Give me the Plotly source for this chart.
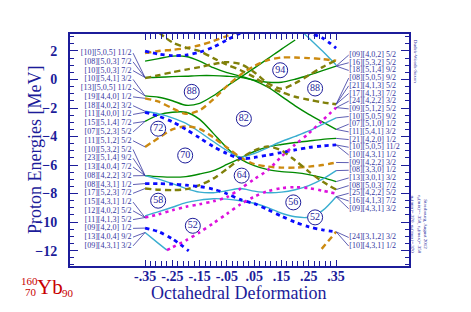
import numpy as np
import plotly.graph_objects as go

# ---------------- data ----------------
xs = [-0.35, -0.30, -0.25, -0.20, -0.15, -0.10, -0.05, 0.00, 0.05, 0.10, 0.15, 0.20, 0.25, 0.30, 0.35]

# green (solid)
G1 = [1.29, 1.46, 1.64, 1.61, 1.29, 0.83, 0.48, 0.23, -0.08, -0.54, -1.18, -1.85, -2.44, -2.97, -3.50]
G2 = [0.14, 0.16, 0.20, 0.23, 0.27, 0.27, 0.23, 0.16, -0.05, -0.19, -0.19, 0.02, 0.30, 0.62, 0.94]
G3 = [-1.15, -1.25, -1.49, -1.81, -1.67, -1.14, -0.47, 0.16, 0.80, 1.46, 2.13, 2.77, None, None, None]
G4 = [-6.74, -6.81, -6.85, -6.81, -6.63, -6.39, -5.96, -5.51, -5.05, -4.73, -4.56, -4.42, -4.31, -4.20, -4.13]
G5 = [-2.94, -2.48, -2.30, -2.30, -2.80, -3.78, -4.80, -5.58, -6.04, -6.32, -6.46, -6.53, -6.67, -6.88, -7.16]
# cyan (solid)
CY1 = [-2.23, -2.41, -2.69, -3.08, -3.68, -4.35, -4.98, -5.44, -5.19, -4.77, -4.35, -3.99, -3.61, -3.15, -2.69]
CY2 = [None, None, None, None, None, None, None, None, None, None, None, 3.82, 2.91, 1.99, 1.01]
CA = [-6.74, -6.99, -7.30, -7.65, -7.90, -7.94, -7.80, -7.65, -7.83, -7.94, -7.90, -7.73, -7.44, -6.99, -6.39]
CB = [-9.56, -9.27, -8.96, -8.64, -8.46, -8.36, -8.39, -8.50, -8.68, -8.99, -9.38, -9.63, -9.66, -9.20, -8.22]
C1_x = [-0.35, -0.30, -0.27]
C1_E = [-10.73, -11.51, -11.97]
# blue (dotted)
BL1 = [-2.30, -2.58, -2.97, -3.50, -4.10, -4.70, -5.19, -5.54, -5.47, -5.30, -5.12, -4.94, -4.77, -4.66, -4.59]
BL2 = [1.99, 1.78, 1.68, 1.71, 1.92, 2.27, 2.77, 3.26, 3.61, 3.75, 3.68, 3.47, 3.26, 2.91, 2.20]
B1 = [-7.30, -7.30, -7.34, -7.41, -7.51, -7.69, -8.01, -8.43, -8.71, -9.13, -9.59, -10.01, -10.33, -10.54, -10.68]
B2_x = [-0.35, -0.30, -0.25, -0.19]
B2_E = [-10.42, -10.68, -11.18, -12.02]
# orange (dashed)
OR1 = [1.85, 2.00, 2.08, 2.20, 2.40, 2.70, 3.05, 3.45, None, None, None, None, None, None, None]
OR2 = [-1.32, -1.56, -2.02, -2.41, -2.16, -1.39, -0.47, 0.34, 0.94, 1.36, 1.54, 1.54, 1.50, 1.43, 1.31]
OR3 = [-4.73, -4.10, -3.50, -3.29, -3.46, -4.06, -4.77, -5.47, -5.93, -6.11, -6.18, -6.18, -6.11, -6.00, -5.82]
OR4_x = [0.297, 0.35]
OR4_E = [-11.88, -10.68]
# olive (dashed)
OL1 = [0.09, 0.30, 0.51, 0.69, 0.87, 1.08, 1.22, 1.08, 0.51, -0.26, -0.65, -0.26, 0.30, 0.87, 1.36]
OL2 = [None, 3.30, 2.60, 2.24, 1.99, 1.50, 1.04, 0.65, 0.16, -0.47, -0.89, -1.21, -1.42, -1.60, -1.74]
OL3 = [-7.65, -7.73, -7.76, -7.69, -7.41, -6.95, -6.28, -5.54, -4.98, -4.70, -4.98, -5.68, -6.46, -7.16, -7.72]
# magenta (dotted)
M1 = [-9.68, -9.45, -9.17, -8.92, -8.75, -8.54, -8.25, -7.65, -6.99, -6.35, -5.40, -4.56, -3.78, -2.87, -1.97]
M2_x = [-0.27, -0.25, -0.20, -0.15, -0.10, -0.05, 0.00, 0.05, 0.10, 0.15, 0.20, 0.25, 0.30, 0.35]
M2_E = [-11.97, -11.77, -11.28, -10.72, -10.08, -9.42, -8.75, -8.22, -7.83, -7.62, -7.55, -7.62, -7.80, -8.01]

# magic-number circles
circ_x = [0.145, -0.179, 0.273, 0.012, -0.302, -0.203, 0.004, -0.302, -0.175, 0.193, 0.273]
circ_E = [0.65, -0.87, -0.63, -2.75, -3.45, -5.33, -6.74, -8.50, -10.26, -8.62, -9.67]
circ_N = ["94", "88", "88", "82", "72", "70", "64", "58", "52", "56", "52"]

left_labels = ["[10][5,0,5] 11/2", "[08][5,0,3] 7/2", "[10][5,0,3] 7/2", "[10][5,4,1] 3/2",
               "[13][5,0,5] 11/2", "[19][4,4,0] 1/2", "[18][4,0,2] 3/2", "[11][4,0,0] 1/2",
               "[15][5,1,4] 7/2", "[07][5,2,3] 5/2", "[11][5,1,2] 5/2", "[10][5,3,2] 5/2",
               "[23][5,1,4] 9/2", "[13][4,0,4] 7/2", "[08][4,2,2] 3/2", "[08][4,3,1] 1/2",
               "[17][5,2,3] 7/2", "[15][4,3,1] 1/2", "[12][4,0,2] 5/2", "[11][4,1,3] 5/2",
               "[09][4,2,0] 1/2", "[13][4,0,4] 9/2", "[09][4,3,1] 3/2"]
left_targets = [G2[0], G2[0], G2[0], G3[0], G3[0], OR2[0], CY1[0], BL1[0], G5[0], G5[0], OR3[0],
                G4[0], G4[0], G4[0], G4[0], B1[0], OL3[0], M1[0], M1[0], M1[0], B2_E[0], C1_E[0], C1_E[0]]

right_labels = ["[09][4,0,2] 5/2", "[16][5,3,2] 5/2", "[18][5,1,4] 9/2", "[08][5,0,5] 9/2",
                "[21][4,1,3] 5/2", "[17][4,1,3] 7/2", "[24][4,2,2] 3/2", "[09][5,1,2] 5/2",
                "[10][5,0,5] 9/2", "[07][5,1,0] 1/2", "[11][5,4,1] 3/2", "[21][4,2,0] 1/2",
                "[10][5,0,5] 11/2", "[10][4,3,1] 1/2", "[09][4,2,2] 3/2", "[08][3,3,0] 1/2",
                "[13][3,0,1] 3/2", "[08][5,0,3] 7/2", "[25][4,2,2] 5/2", "[16][4,1,3] 7/2",
                "[09][4,3,1] 3/2", "[24][3,1,2] 3/2", "[10][4,3,1] 1/2"]
right_targets = [G2[-1], G2[-1], G2[-1], OL2[-1], OL2[-1], OL2[-1], M1[-1], M1[-1], CY1[-1],
                 G1[-1], G1[-1], G4[-1], BL1[-1], BL1[-1], OR3[-1], CA[-1], G5[-1], OL3[-1],
                 CB[-1], CB[-1], CB[-1], B1[-1], B1[-1]]

x_ticks = [-0.35, -0.25, -0.15, -0.05, 0.05, 0.15, 0.25, 0.35]
x_ticktext = ["-.35", "-.25", "-.15", "-.05", ".05", ".15", ".25", ".35"]
y_ticks = [2, 0, -2, -4, -6, -8, -10, -12]

# ---------------- style ----------------
NAVY = "#1c1c9a"
LBL = "#3535a0"
RED = "#c80000"
SERIF = "Liberation Serif"
GREEN = "#008a00"
CYAN = "#3aaed0"
BLUE = "#0a0aff"
ORANGE = "#cc8a10"
OLIVE = "#80800a"
MAGENTA = "#dd10dd"

fig = go.Figure()


def add(x, y, color, width, dash):
    fig.add_trace(go.Scatter(x=x, y=y, mode="lines", hoverinfo="skip", showlegend=False,
                             line=dict(color=color, width=width, dash=dash, shape="spline", smoothing=0.8)))


for c in [G1, G2, G3, G4, G5]:
    add(xs, c, GREEN, 1.4, "solid")
for c in [CY1, CY2, CA, CB]:
    add(xs, c, CYAN, 1.4, "solid")
add(C1_x, C1_E, CYAN, 1.4, "solid")
for c in [OR1, OR2, OR3]:
    add(xs, c, ORANGE, 2.4, "6px,4px")
add(OR4_x, OR4_E, ORANGE, 2.4, "6px,4px")
for c in [OL1, OL2, OL3]:
    add(xs, c, OLIVE, 2.4, "6px,4px")
for c in [BL1, BL2, B1]:
    add(xs, c, BLUE, 2.8, "4px,4px")
add(B2_x, B2_E, BLUE, 2.8, "4px,4px")
add(xs, M1, MAGENTA, 2.6, "3px,4px")
add(M2_x, M2_E, MAGENTA, 2.6, "3px,4px")

# label positions (layout)
yl = np.linspace(1.85, -11.67, len(left_labels))
yr = list(np.linspace(1.71, -9.06, 21)) + [-11.08, -11.68]
xl_text, xl_line = -0.400, -0.394
xr_text, xr_line = 0.398, 0.396

cx, cy = [], []
for a, b in zip(yl, left_targets):
    cx += [xl_line, xs[0], None]
    cy += [a, b, None]
for a, b in zip(yr, right_targets):
    cx += [xs[-1], xr_line, None]
    cy += [b, a, None]
fig.add_trace(go.Scatter(x=cx, y=cy, mode="lines", line=dict(color=LBL, width=0.8),
                         hoverinfo="skip", showlegend=False))

fig.add_trace(go.Scatter(x=[xl_text] * len(left_labels), y=yl, mode="text", text=left_labels,
                         textposition="middle left", textfont=dict(family=SERIF, size=8, color=LBL),
                         hoverinfo="skip", showlegend=False, cliponaxis=False))
fig.add_trace(go.Scatter(x=[xr_text] * len(right_labels), y=yr, mode="text", text=right_labels,
                         textposition="middle right", textfont=dict(family=SERIF, size=8, color=LBL),
                         hoverinfo="skip", showlegend=False, cliponaxis=False))

fig.add_trace(go.Scatter(x=circ_x, y=circ_E, mode="markers+text", text=circ_N,
                         textposition="middle center",
                         textfont=dict(family=SERIF, size=10, color=NAVY),
                         marker=dict(symbol="circle", size=15, color="white",
                                     line=dict(color=NAVY, width=1)),
                         hoverinfo="skip", showlegend=False))

minor_x = [round(-0.35 + 0.02 * k, 2) for k in range(36)]
fig.update_xaxes(range=[-0.625, 0.617], tickvals=x_ticks, ticktext=x_ticktext,
                 ticks="inside", ticklen=6, tickwidth=1, tickcolor=NAVY, mirror="ticks",
                 minor=dict(tickvals=minor_x, ticks="inside", ticklen=5, tickcolor=NAVY, showgrid=False),
                 showline=True, linecolor=NAVY, linewidth=2, showgrid=False, zeroline=False,
                 ticklabelstandoff=-4,
                 tickfont=dict(family=SERIF, size=14, color=NAVY, weight="bold"))
fig.update_yaxes(range=[-13.08, 3.19], tickvals=y_ticks, ticks="inside", ticklen=8, tickwidth=1,
                 tickcolor=NAVY, mirror="ticks", showline=True, linecolor=NAVY, linewidth=2,
                 showgrid=False, zeroline=False, ticklabelstandoff=8,
                 minor=dict(dtick=0.5, tick0=0, ticks="inside", ticklen=4, tickcolor=NAVY, showgrid=False),
                 tickfont=dict(family=SERIF, size=14, color=NAVY, weight="bold"))

ann = [
    dict(text="Proton Energies [MeV]", x=-0.103, y=0.5, textangle=-90,
         font=dict(family=SERIF, size=18, color=NAVY)),
    dict(text="Octahedral Deformation", x=0.496, y=-0.116,
         font=dict(family=SERIF, size=18, color=NAVY)),
    dict(text="Yb", x=-0.060, y=-0.090, font=dict(family=SERIF, size=21, color=RED)),
    dict(text="160", x=-0.118, y=-0.063, font=dict(family=SERIF, size=11, color=RED)),
    dict(text="70", x=-0.114, y=-0.114, font=dict(family=SERIF, size=11, color=RED)),
    dict(text="90", x=-0.006, y=-0.116, font=dict(family=SERIF, size=11, color=RED)),
    dict(text="Dudek-Woods-Saxon", x=1.018, y=0.884, textangle=90,
         font=dict(family=SERIF, size=5, color=NAVY)),
    dict(text="Strasbourg, August 2012<br>ε<sub>o</sub>(min)=-.350, ε<sub>o</sub>(max)=.350<br>"
              "α<sub>o</sub>(min)=.370, α<sub>o</sub>(max)=.370",
         x=1.03, y=0.18, textangle=90, font=dict(family=SERIF, size=5, color=NAVY)),
]
for a in ann:
    fig.add_annotation(xref="paper", yref="paper", showarrow=False, xanchor="center", yanchor="middle", **a)

# the page adds an 8px body margin, so the figure is sized to fit the remaining window
fig.update_layout(width=463, height=304, autosize=False,
                  margin=dict(l=62, r=62, t=26, b=46),
                  paper_bgcolor="white", plot_bgcolor="white", showlegend=False)

fig.write_html("out.html")
